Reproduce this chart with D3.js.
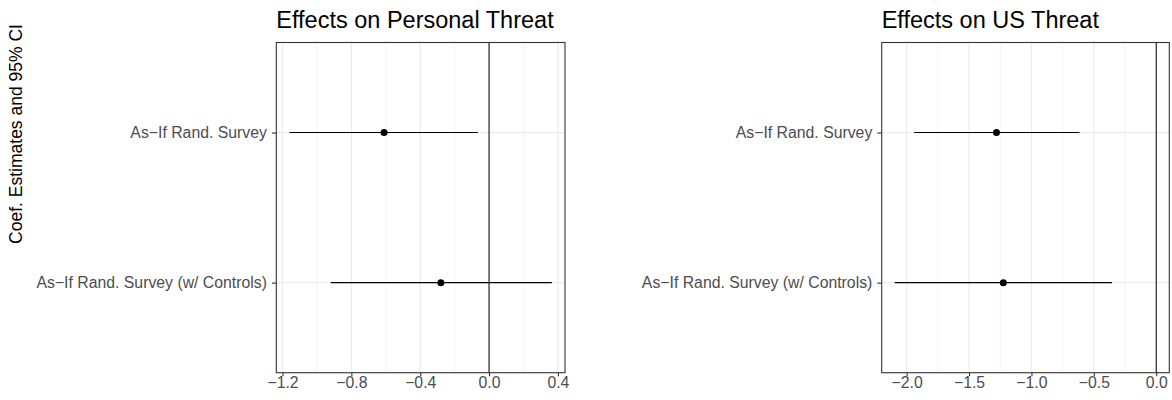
<!DOCTYPE html>
<html>
<head>
<meta charset="utf-8">
<script src="https://cdn.jsdelivr.net/npm/d3@7"></script>
<style>
  body { margin: 0; background: #fff; }
  text { font-family: "Liberation Sans", Arial, sans-serif; }
</style>
</head>
<body>
<div id="chart"></div>
<script>
// model names (y categories)
const models = ["As\u2212If Rand. Survey", "As\u2212If Rand. Survey (w/ Controls)"]

// personal threat estimates + 95% CI
const personalEst = [-0.61, -0.28]
const personalLow = [-1.16, -0.92]
const personalHigh = [-0.065, 0.365]
const personalTicks = [-1.2, -0.8, -0.4, 0.0, 0.4]
const personalTickLabels = ["\u22121.2", "\u22120.8", "\u22120.4", "0.0", "0.4"]

// US threat estimates + 95% CI
const usEst = [-1.28, -1.225]
const usLow = [-1.94, -2.095]
const usHigh = [-0.615, -0.355]
const usTicks = [-2.0, -1.5, -1.0, -0.5, 0.0]
const usTickLabels = ["\u22122.0", "\u22121.5", "\u22121.0", "\u22120.5", "0.0"]

const titles = ["Effects on Personal Threat", "Effects on US Threat"]
const yTitle = "Coef. Estimates and 95% CI"

const width = 1172
const height = 400
const plotTop = 42.5, plotBottom = 372.7
const axisFont = "15.8px"

const svg = d3.select("#chart")
  .append("svg")
  .attr("width", width)
  .attr("height", height)

// y axis title
svg.append("text")
  .attr("transform", "translate(21.5,134) rotate(-90)")
  .attr("text-anchor", "middle")
  .style("font-size", "17.5px")
  .attr("fill", "#000")
  .text(yTitle)

function drawPanel(left, right, title, est, low, high, ticks, tickLabels) {
  const g = svg.append("g")

  // ggplot style 5% expansion, zero line included
  const lo = d3.min(low.concat([0])), hi = d3.max(high.concat([0]))
  const pad = (hi - lo) * 0.05
  const x = d3.scaleLinear().domain([lo - pad, hi + pad]).range([left, right])
  const y = d3.scalePoint().domain(models).range([plotTop, plotBottom]).padding(0.6)

  // minor grid at midpoints of the ticks
  const step = ticks[1] - ticks[0]
  const minor = []
  for (let i = -1; i < ticks.length; i++) {
    const v = (i < 0 ? ticks[0] - step : ticks[i]) + step / 2
    if (v > x.domain()[0] && v < x.domain()[1]) minor.push(v)
  }
  g.selectAll(".minor").data(minor).join("line")
    .attr("x1", d => x(d)).attr("x2", d => x(d))
    .attr("y1", plotTop).attr("y2", plotBottom)
    .attr("stroke", "#EBEBEB").attr("stroke-width", 0.6)

  g.selectAll(".majorx").data(ticks).join("line")
    .attr("x1", d => x(d)).attr("x2", d => x(d))
    .attr("y1", plotTop).attr("y2", plotBottom)
    .attr("stroke", "#EBEBEB").attr("stroke-width", 1.2)

  g.selectAll(".majory").data(models).join("line")
    .attr("x1", left).attr("x2", right)
    .attr("y1", d => y(d)).attr("y2", d => y(d))
    .attr("stroke", "#EBEBEB").attr("stroke-width", 1.2)

  // zero line
  g.append("line")
    .attr("x1", x(0)).attr("x2", x(0))
    .attr("y1", plotTop).attr("y2", plotBottom)
    .attr("stroke", "#000").attr("stroke-width", 1)

  // CI lines + points
  const rows = models.map((m, i) => ({ m: m, est: est[i], low: low[i], high: high[i] }))
  g.selectAll(".ci").data(rows).join("line")
    .attr("x1", d => x(d.low)).attr("x2", d => x(d.high))
    .attr("y1", d => y(d.m)).attr("y2", d => y(d.m))
    .attr("stroke", "#000").attr("stroke-width", 1.1)
  g.selectAll(".pt").data(rows).join("circle")
    .attr("cx", d => x(d.est)).attr("cy", d => y(d.m))
    .attr("r", 3.5).attr("fill", "#000")

  // border
  g.append("rect")
    .attr("x", left).attr("y", plotTop)
    .attr("width", right - left).attr("height", plotBottom - plotTop)
    .attr("fill", "none").attr("stroke", "#333333").attr("stroke-width", 1.1)

  // x axis
  const xAxis = g.append("g")
    .attr("transform", `translate(0,${plotBottom})`)
    .call(d3.axisBottom(x).tickValues(ticks)
      .tickFormat((d, i) => tickLabels[i]).tickSize(3.5).tickPadding(0.8))
  xAxis.select(".domain").remove()
  xAxis.selectAll(".tick line").attr("stroke", "#333333").attr("stroke-width", 1.1)
  xAxis.selectAll(".tick text")
    .attr("fill", "#4D4D4D").style("font-size", axisFont)
    .style("font-family", "Liberation Sans, Arial, sans-serif")

  // y axis
  const yAxis = g.append("g")
    .attr("transform", `translate(${left},0)`)
    .call(d3.axisLeft(y).tickSize(4.4).tickPadding(5))
  yAxis.select(".domain").remove()
  yAxis.selectAll(".tick line").attr("stroke", "#333333").attr("stroke-width", 1.1)
  yAxis.selectAll(".tick text")
    .attr("fill", "#4D4D4D").style("font-size", axisFont)
    .style("font-family", "Liberation Sans, Arial, sans-serif")

  // title
  g.append("text")
    .attr("x", left).attr("y", 27.5)
    .style("font-size", "23.5px")
    .attr("fill", "#000")
    .text(title)
}

drawPanel(276.3, 565, titles[0], personalEst, personalLow, personalHigh, personalTicks, personalTickLabels)
drawPanel(881.7, 1169.3, titles[1], usEst, usLow, usHigh, usTicks, usTickLabels)
</script>
</body>
</html>
